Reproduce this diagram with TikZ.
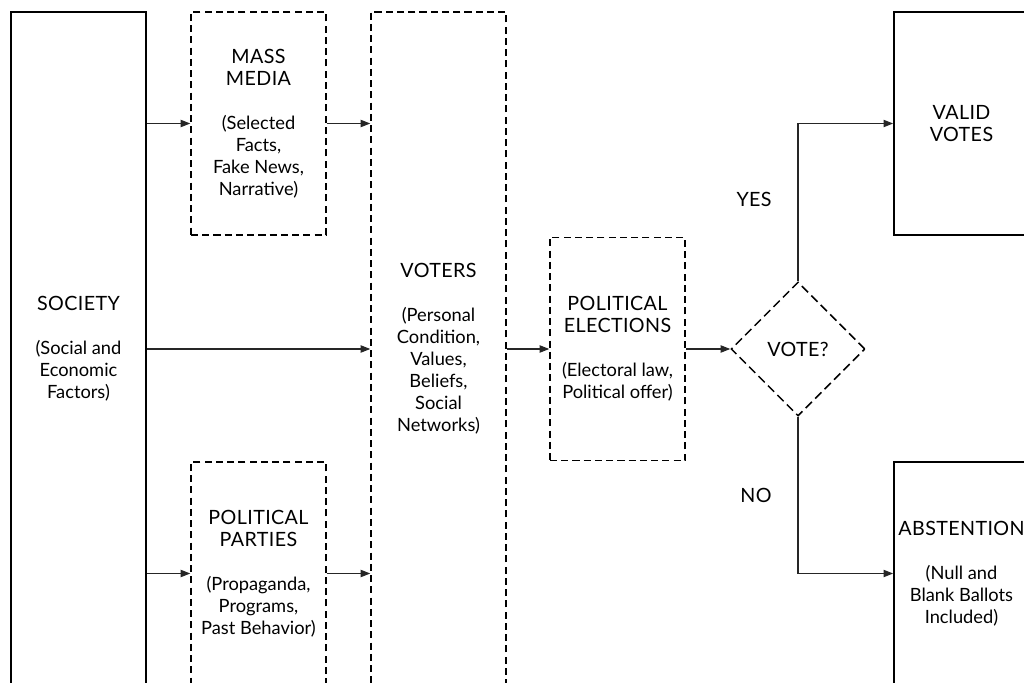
\documentclass[tikz,border=0pt]{standalone}
\usepackage{fontspec}
\setmainfont{Lato}
\newfontfamily\capsfont[LetterSpace=2]{Lato}
\newcommand\hd[1]{{\capsfont\fontsize{11.2}{12.5}\selectfont #1}}
\usepackage{tikz}
\usetikzlibrary{shapes.geometric, arrows.meta, positioning}

\begin{document}
\begin{tikzpicture}[
  box/.style={draw, line width=0.95pt, minimum width=2.7cm, minimum height=#1,
              inner sep=2pt, align=center, font=\fontsize{10.4}{12.5}\selectfont},
  box/.default=4.46cm,
  dbox/.style={box=#1, line width=0.85pt, dash pattern=on 4pt off 2.4pt},
  dbox/.default=4.46cm,
  decide/.style={diamond, draw, line width=0.85pt, dash pattern=on 5pt off 2.6pt,
                 minimum width=2.68cm, minimum height=2.68cm, inner sep=0pt},
  arr/.style={-{Triangle[length=5.5pt, width=4.2pt]}, line width=0.6pt, black!85},
  lbl/.style={text=black}
]
\useasboundingbox (0,0) rectangle (20.48,13.64);
\clip (0,0) rectangle (20.48,13.64);

\node[box=13.48cm] (society)   at (1.57,6.66)  {\hd{SOCIETY}\\[12.5pt](Social and\\Economic\\Factors)};
\node[dbox]        (media)     at (5.17,11.17) {\hd{MASS}\\\hd{MEDIA}\\[12.5pt](Selected\\Facts,\\Fake News,\\Narrative)};
\node[dbox]        (parties)   at (5.17,2.17)  {\hd{POLITICAL}\\\hd{PARTIES}\\[12.5pt](Propaganda,\\Programs,\\Past Behavior)};
\node[dbox=13.48cm](voters)    at (8.77,6.66)  {\hd{VOTERS}\\[12.5pt](Personal\\Condition,\\Values,\\Beliefs,\\Social\\Networks)};
\node[dbox]        (elections) at (12.35,6.66) {\hd{POLITICAL}\\\hd{ELECTIONS}\\[12.5pt](Electoral law,\\Political offer)};
\node[decide]      (vote)      at (15.96,6.66) {\hd{VOTE?}};
\node[box]         (valid)     at (19.23,11.17) {\hd{VALID}\\\hd{VOTES}};
\node[box]         (abst)      at (19.23,2.17)  {\hd{ABSTENTION}\\[12.5pt](Null and\\Blank Ballots\\Included)};

\draw[arr] (media.west -| society.east)   -- (media.west);
\draw[arr] (society.east)                 -- (voters.west);
\draw[arr] (parties.west -| society.east) -- (parties.west);
\draw[arr] (media.east)   -- (media.east -| voters.west);
\draw[arr] (parties.east) -- (parties.east -| voters.west);
\draw[arr] (elections.west -| voters.east) -- (elections.west);
\draw[arr] (elections.east) -- (vote.west);
\draw[arr] (vote.north) |- node[lbl, pos=0.26, left=0.4cm]{\hd{YES}} (valid.west);
\draw[arr] (vote.south) |- node[lbl, pos=0.25, left=0.4cm]{\hd{NO}} (abst.west);
\end{tikzpicture}
\end{document}
